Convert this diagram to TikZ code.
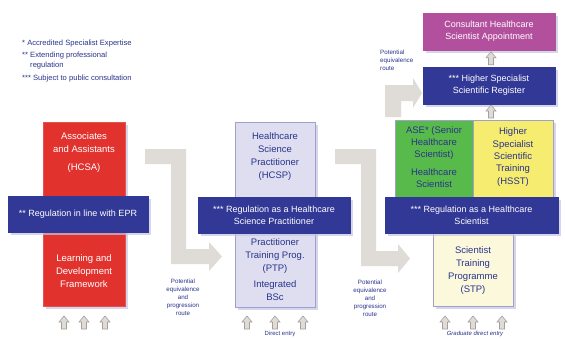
\documentclass[tikz,border=0pt]{standalone}
\usepackage{fontspec}
\setmainfont{Liberation Sans}
\usetikzlibrary{shadows}

\definecolor{regblue}{RGB}{50,56,150}
\definecolor{hcsared}{RGB}{226,50,46}
\definecolor{practlilac}{RGB}{222,222,240}
\definecolor{asegreen}{RGB}{88,186,74}
\definecolor{hsstyellow}{RGB}{246,236,112}
\definecolor{stpcream}{RGB}{251,248,220}
\definecolor{consmagenta}{RGB}{178,80,158}
\definecolor{inkblue}{RGB}{42,52,140}
\definecolor{edgelilac}{RGB}{160,160,205}
\definecolor{routegray}{RGB}{223,220,215}
\definecolor{tipedge}{RGB}{165,160,155}
\definecolor{shadelilac}{RGB}{196,196,228}

\tikzset{
  stage/.style={draw=edgelilac, line width=0.5pt, inner sep=0pt,
    drop shadow={shadow xshift=3pt, shadow yshift=-3pt, fill=shadelilac, opacity=0.7}},
  regbar/.style={stage, fill=regblue, draw=regblue, text=white, align=center,
    font=\fontsize{9}{12}\selectfont},
  boxtext/.style={align=center, text=inkblue, font=\fontsize{9.5}{13}\selectfont},
  legend/.style={align=left, text=inkblue, inner sep=0pt, font=\fontsize{7.6}{10}\selectfont},
  routenote/.style={align=center, text=inkblue, inner sep=0pt, font=\fontsize{6.2}{8}\selectfont},
  uparrow/.pic={
    \path[draw=tipedge, fill=routegray, line width=0.6pt]
      (-2.5,0) -- (-2.5,-7) -- (-5,-7) -- (0,-13) -- (5,-7) -- (2.5,-7) -- (2.5,0) -- cycle;
  }
}

\begin{document}
\begin{tikzpicture}[x=1pt,y=-1pt]

\path[use as bounding box, fill=white] (0,0) rectangle (565,338);

% key to the stars
\node[legend, anchor=west] (keyase) at (22,44) {* Accredited Specialist Expertise};
\node[legend, anchor=north west] (keyepr) at (22,52) {** Extending professional\\\hphantom{** }regulation};
\node[legend, anchor=west] (keyconsult) at (22,79) {*** Subject to public consultation};

% broad grey routes between the columns
\fill[routegray] (145,149) -- (186,149) -- (186,249) -- (209,249) -- (209,242) -- (222,256.5)
  -- (209,271) -- (209,264) -- (171,264) -- (171,164) -- (145,164) -- cycle;
\fill[routegray] (335,149) -- (376,149) -- (376,251) -- (398,251) -- (398,244) -- (410,258.5)
  -- (398,273) -- (398,266) -- (361,266) -- (361,164) -- (335,164) -- cycle;
\fill[routegray] (385,85) -- (413,85) -- (413,78) -- (422,93) -- (413,108) -- (413,101)
  -- (401,101) -- (401,117) -- (385,117) -- cycle;

\node[routenote] (routea) at (183,297) {Potential\\equivalence\\and\\progression\\route};
\node[routenote] (routeb) at (370,298) {Potential\\equivalence\\and\\progression\\route};
\node[routenote, align=left, anchor=north west] (routec) at (380,50) {Potential\\equivalence\\route};

% associates column
\node[stage, fill=hcsared, draw=hcsared!85!white, minimum width=82pt, minimum height=184pt] (hcsa) at (84,214) {};
\node[boxtext, text=white] (hcsaname) at (84,153) {Associates\\and Assistants\\[5pt](HCSA)};
\node[boxtext, text=white] (ldf) at (84,271) {Learning and\\Development\\Framework};
\node[regbar, minimum width=140pt, minimum height=36pt] (eprbar) at (78,214) {** Regulation in line with EPR};

% practitioner column
\node[stage, fill=practlilac, minimum width=80pt, minimum height=185pt] (hcsp) at (275,214.5) {};
\node[boxtext] (hcspname) at (275,157) {Healthcare\\Science\\Practitioner\\(HCSP)};
\node[boxtext] (ptpname) at (275,256) {Practitioner\\Training Prog.\\(PTP)};
\node[boxtext] (bscname) at (275,291) {Integrated\\BSc};
\node[regbar, minimum width=152pt, minimum height=36pt] (hcspbar) at (274,215) {*** Regulation as a Healthcare\\Science Practitioner};

% scientist column
\node[stage, fill=asegreen, minimum width=78pt, minimum height=77pt] (ase) at (434,158.5) {};
\node[stage, fill=hsstyellow, minimum width=80pt, minimum height=77pt] (hsst) at (513,158.5) {};
\node[boxtext, font=\fontsize{9.5}{12}\selectfont] (asename) at (434,157) {ASE* (Senior\\Healthcare\\Scientist)\\[6pt]Healthcare\\Scientist};
\node[boxtext, font=\fontsize{9.5}{12.3}\selectfont] (hsstname) at (513,157) {Higher\\Specialist\\Scientific\\Training\\(HSST)};
\node[stage, fill=stpcream, minimum width=80pt, minimum height=73pt] (stp) at (473,269.5) {};
\node[boxtext] (stpname) at (473,271) {Scientist\\Training\\Programme\\(STP)};
\node[regbar, minimum width=173pt, minimum height=36pt] (hcsbar) at (471.5,215) {*** Regulation as a Healthcare\\Scientist};

% top of the ladder
\node[regbar, fill=consmagenta, draw=consmagenta, minimum width=132pt, minimum height=37pt] (cons) at (489,31.5) {Consultant Healthcare\\Scientist Appointment};
\node[regbar, minimum width=132pt, minimum height=37pt] (hssr) at (489,85.5) {*** Higher Specialist\\Scientific Register};

\pic at ([xshift=2pt, yshift=2pt]hssr.north) {uparrow};
\pic at (491,118) {uparrow};

% entry points
\foreach \x in {64,84,105} \pic at (\x,329) {uparrow};
\foreach \x in {247,275,303} \pic at (\x,329) {uparrow};
\foreach \x in {445,473,502} \pic at (\x,329) {uparrow};
\node[routenote, anchor=north, font=\fontsize{6}{8}\selectfont] (direct) at (280,331.2) {Direct entry};
\node[routenote, anchor=north, font=\fontsize{6}{8}\itshape] (graduate) at (475,331.2) {Graduate direct entry};

\end{tikzpicture}
\end{document}
